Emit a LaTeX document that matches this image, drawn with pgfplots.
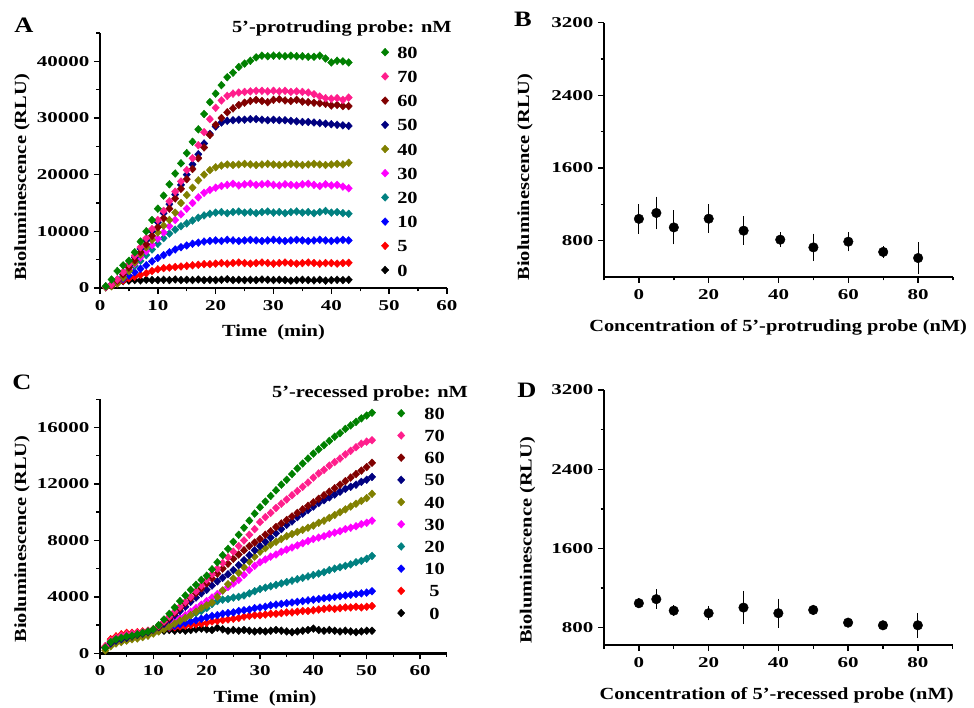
\documentclass[border=0pt]{standalone}
\usepackage{fontspec}
\setmainfont{Liberation Serif}[FakeStretch=1.2]
\newfontfamily\tickfam{Liberation Serif}[FakeStretch=1.4]
\usepackage{pgfplots}
\pgfplotsset{compat=1.18}
\usepackage{pgfplotstable}

\definecolor{cgreen}{RGB}{0,128,0}
\definecolor{cpink}{RGB}{255,30,140}
\definecolor{cmaroon}{RGB}{128,0,0}
\definecolor{cnavy}{RGB}{0,0,128}
\definecolor{colive}{RGB}{128,128,0}
\definecolor{cmagenta}{RGB}{255,0,255}
\definecolor{cteal}{RGB}{0,128,128}
\definecolor{cblue}{RGB}{0,0,255}
\definecolor{cred}{RGB}{255,0,0}

\newcommand\tfont{\fontsize{15}{17}\selectfont\tickfam\bfseries}
\newcommand\lfont{\fontsize{17}{19}\selectfont\bfseries}

\pgfplotstableread{
t c0 c5 c10 c20 c30 c40 c50 c60 c70 c80
1 200 200 200 200 200 100 200 200 200 300
2 500 500 500 500 600 300 600 500 600 1500
3 900 900 1000 1100 1300 800 1500 1300 1500 3000
4 1200 1300 1600 2000 2300 1800 2700 2400 2800 4000
5 1300 1700 2200 3000 3300 3000 4000 3600 4200 4800
6 1400 2000 2800 3900 4300 4500 5400 4900 5700 6300
7 1350 2300 3400 4800 5400 5900 6900 6300 7200 8200
8 1450 2600 4000 5800 6500 7200 8400 7700 8800 10000
9 1400 3000 4700 6800 7600 8500 10000 9200 10400 12000
10 1400 3300 5300 7800 8700 9800 11600 10700 12000 14000
11 1450 3500 5800 8800 9800 11000 13200 12300 13600 16300
12 1400 3600 6300 9600 10900 12000 14800 14000 15300 18300
13 1500 3700 6800 10300 12000 13300 16500 15800 17000 20200
14 1400 3800 7200 10900 13000 15000 18200 17500 18800 22000
15 1450 3900 7500 11400 14000 16400 20000 19200 20800 23800
16 1400 4000 7800 11900 15000 17700 21800 21000 22900 25800
17 1500 4100 8000 12400 16000 19000 23600 22900 25200 28000
18 1400 4200 8200 12800 16800 20000 25500 24800 27500 30700
19 1450 4200 8300 13100 17300 20800 27200 27000 29800 32800
20 1400 4300 8400 13300 17700 21300 28500 28800 31800 34300
21 1450 4400 8300 13400 18000 21600 29200 30000 33100 35800
22 1550 4300 8500 13200 18200 21800 29500 31000 33900 37200
23 1400 4400 8400 13400 18400 21700 29600 31700 34300 38000
24 1450 4500 8300 13500 18100 21800 29700 32300 34500 39000
25 1400 4400 8400 13300 18300 21900 29700 32700 34600 39600
26 1450 4300 8500 13400 18400 21800 29800 33000 34700 40100
27 1400 4400 8400 13200 18200 21700 29800 33200 34800 40700
28 1500 4500 8300 13400 18300 21800 29700 33000 34800 41000
29 1450 4400 8400 13500 18400 21900 29600 32800 34700 40900
30 1400 4300 8500 13300 18200 21800 29700 33200 34800 41000
31 1450 4400 8400 13400 18100 21700 29600 33300 34700 41000
32 1400 4500 8300 13200 18300 21800 29600 33100 34800 40900
33 1300 4400 8400 13400 18200 21900 29500 33000 34600 41000
34 1400 4300 8500 13500 18100 21800 29400 33200 34700 40900
35 1450 4400 8400 13300 18300 21700 29300 32900 34600 40900
36 1400 4500 8300 13400 18400 21800 29300 32800 34500 40800
37 1350 4400 8400 13200 18200 21900 29200 32700 34200 40800
38 1450 4300 8500 13400 18000 21800 29100 32600 33800 41000
39 1300 4400 8400 13600 18300 21700 29000 32500 33500 40500
40 1400 4400 8300 13300 18100 21800 28900 32200 33400 39800
41 1450 4300 8400 13400 18200 21900 28800 32300 33500 40100
42 1400 4400 8500 13200 17900 21800 28700 32100 33200 40000
43 1450 4450 8400 13100 17600 22100 28600 32100 33600 39800
}\tabA

\pgfplotstableread{
t c0 c5 c10 c20 c30 c40 c50 c60 c70 c80
1 400 500 400 400 400 200 400 400 500 400
2 800 1000 800 800 800 500 700 800 900 800
3 1000 1200 1000 1000 1000 700 900 1000 1100 1000
4 1100 1350 1100 1100 1100 800 1000 1100 1250 1100
5 1200 1450 1200 1200 1200 900 1100 1200 1350 1200
6 1250 1450 1300 1250 1250 1000 1200 1250 1400 1250
7 1300 1500 1350 1350 1300 1050 1300 1350 1450 1350
8 1400 1550 1450 1450 1400 1150 1400 1450 1500 1450
9 1450 1600 1500 1550 1500 1250 1500 1550 1600 1550
10 1550 1700 1600 1650 1600 1400 1650 1700 1700 1700
11 1600 1750 1700 1800 1750 1550 1850 1900 1950 2000
12 1600 1800 1800 1950 1900 1700 2100 2200 2250 2400
13 1650 1800 1850 2100 2100 1900 2400 2500 2600 2800
14 1600 1850 1950 2250 2300 2100 2700 2850 2950 3250
15 1650 1900 2050 2400 2500 2300 3000 3200 3300 3700
16 1600 1950 2150 2550 2700 2500 3300 3550 3650 4100
17 1650 2000 2250 2700 2950 2700 3650 3900 4000 4500
18 1700 2050 2350 2850 3200 2950 3950 4250 4400 4850
19 1750 2100 2450 3000 3450 3200 4250 4600 4800 5200
20 1700 2150 2550 3200 3700 3400 4500 4950 5200 5500
21 1650 2250 2650 3500 3950 3600 4800 5300 5600 5950
22 1800 2300 2700 3700 4200 4000 5100 5650 6000 6450
23 1700 2350 2800 3800 4450 4450 5350 6000 6400 6950
24 1600 2400 2850 3850 4700 4900 5600 6350 6800 7400
25 1650 2450 2900 3950 4950 5300 5900 6700 7200 7900
26 1600 2500 3000 4000 5200 5700 6250 7000 7600 8400
27 1650 2600 3050 4100 5550 6100 6600 7300 8000 8900
28 1600 2650 3100 4250 5900 6500 6950 7600 8400 9400
29 1550 2700 3200 4400 6200 6850 7300 7850 8800 9900
30 1600 2700 3250 4550 6450 7200 7600 8100 9300 10350
31 1550 2750 3300 4650 6650 7450 7900 8400 9650 10750
32 1600 2800 3400 4750 6850 7700 8200 8650 9950 11150
33 1650 2800 3450 4850 7000 7900 8500 8950 10300 11550
34 1600 2850 3500 4950 7200 8100 8800 9200 10600 11950
35 1550 2900 3550 5050 7350 8300 9100 9450 10900 12300
36 1500 2900 3600 5150 7500 8450 9350 9700 11200 12700
37 1550 2950 3650 5250 7650 8600 9650 9950 11500 13100
38 1600 3000 3700 5350 7800 8750 9900 10200 11800 13450
39 1650 3000 3750 5450 7950 8900 10150 10450 12100 13800
40 1750 3050 3800 5550 8100 9050 10400 10700 12450 14150
41 1650 3100 3850 5650 8200 9250 10650 10950 12750 14450
42 1600 3150 3900 5750 8300 9400 10850 11200 13000 14750
43 1650 3200 3950 5900 8450 9600 11050 11450 13300 15050
44 1600 3150 4000 6000 8550 9800 11250 11700 13550 15350
45 1550 3200 4050 6100 8650 10000 11450 11950 13800 15600
46 1600 3250 4100 6200 8800 10200 11650 12200 14100 15900
47 1550 3250 4150 6300 8900 10400 11800 12450 14350 16150
48 1500 3300 4200 6450 9000 10600 11950 12700 14600 16400
49 1550 3250 4250 6550 9150 10800 12150 12950 14850 16650
50 1600 3300 4300 6700 9250 11000 12300 13200 15000 16850
51 1600 3350 4400 6900 9400 11300 12500 13500 15100 17050
}\tabC

\pgfplotsset{
  panel/.style={
    scale only axis, anchor=south west, clip=false,
    axis lines*=left,
    axis line style={line width=2.4pt, black},
    tick style={line width=1.4pt, black},
    tick align=outside,
    major tick length=6pt, minor tick length=3.5pt,
    ticklabel style={font=\tfont},
    xticklabel style={yshift=-3pt},
    yticklabel style={xshift=-1pt},
    /pgf/number format/assume math mode=true,
    /pgf/number format/set thousands separator={},
    label style={font=\lfont},
  },
  curve/.style={only marks, mark=diamond*, mark size=3.9pt, color=#1,
    mark options={fill=#1, draw=#1, xscale=1.25}},
  errpt/.style={only marks, mark=*, mark size=4.8pt, black,
    error bars/.cd, y dir=both, y explicit,
    error bar style={line width=1.1pt, black},
    error mark options={mark size=3.3pt, line width=1.1pt, black}},
}

\begin{document}
\begin{tikzpicture}
\path[use as bounding box] (0,0) rectangle (974pt,-708pt);

% ---------------- A ----------------
\begin{axis}[panel, at={(100pt,-288pt)}, width=347pt, height=255pt,
  xmin=0, xmax=60, ymin=0, ymax=45000,
  xtick={0,10,...,60}, minor xtick={5,15,...,55},
  ytick={0,10000,...,40000}, minor ytick={5000,15000,...,45000},
  scaled y ticks=false,
  xlabel={Time\ \ (min)}, ylabel={Bioluminescence (RLU)},
  xlabel style={at={(axis description cs:0.5,-0.176)}, anchor=center},
  ylabel style={at={(axis description cs:-0.225,0.433)}, anchor=center},
  reverse legend, legend cell align=left,
  legend style={at={(rel axis cs:0.8105,0.949)}, anchor=north west, draw=none, fill=none,
    font=\lfont, row sep=12.2pt, column sep=8.5pt, inner sep=0pt,
    nodes={inner sep=0pt, text height=12pt, text depth=0pt}},
]
\addplot[curve=black] table[x=t,y=c0]{\tabA};
\addplot[curve=cred] table[x=t,y=c5]{\tabA};
\addplot[curve=cblue] table[x=t,y=c10]{\tabA};
\addplot[curve=cteal] table[x=t,y=c20]{\tabA};
\addplot[curve=cmagenta] table[x=t,y=c30]{\tabA};
\addplot[curve=colive] table[x=t,y=c40]{\tabA};
\addplot[curve=cnavy] table[x=t,y=c50]{\tabA};
\addplot[curve=cmaroon] table[x=t,y=c60]{\tabA};
\addplot[curve=cpink] table[x=t,y=c70]{\tabA};
\addplot[curve=cgreen] table[x=t,y=c80]{\tabA};
\legend{0,5,10,20,30,40,50,60,70,80}
\node[font=\lfont] at (rel axis cs:0.697,1.018) {5'-protruding probe: nM};
\end{axis}

% ---------------- B ----------------
\begin{axis}[panel, at={(604pt,-277pt)}, width=349pt, height=254.3pt,
  xmin=-10, xmax=90, ymin=400, ymax=3200,
  xtick={0,20,...,80}, minor xtick={-10,10,...,90},
  ytick={800,1600,2400,3200}, minor ytick={1200,2000,2800},
  xlabel={Concentration of 5'-protruding probe (nM)}, ylabel={Bioluminescence (RLU)},
  xlabel style={at={(axis description cs:0.499,-0.2)}, anchor=center},
  ylabel style={at={(axis description cs:-0.226,0.393)}, anchor=center},
]
\addplot[errpt] coordinates {
 (0,1040) +- (0,125)
 (5,1105) +- (0,145)
 (10,946) +- (0,150)
 (20,1042) +- (0,120)
 (30,910) +- (0,120)
 (40.5,811) +- (0,45)
 (50,726) +- (0,115)
 (60,789) +- (0,70)
 (70,676) +- (0,25)
 (80,609) +- (0,140)
};
\end{axis}

% ---------------- C ----------------
\begin{axis}[panel, at={(100pt,-653.3pt)}, width=346.7pt, height=254pt,
  xmin=0, xmax=65, ymin=0, ymax=18000,
  xtick={0,10,...,60}, minor xtick={5,15,...,65},
  ytick={0,4000,...,16000}, minor ytick={2000,6000,...,18000},
  scaled y ticks=false,
  xlabel={Time\ \ (min)}, ylabel={Bioluminescence (RLU)},
  xlabel style={at={(axis description cs:0.476,-0.177)}, anchor=center},
  ylabel style={at={(axis description cs:-0.225,0.45)}, anchor=center},
  reverse legend, legend cell align=center,
  legend style={at={(rel axis cs:0.8576,0.9695)}, anchor=north west, draw=none, fill=none,
    font=\lfont, row sep=10.2pt, column sep=19.5pt, inner sep=0pt,
    nodes={inner sep=0pt, text height=12pt, text depth=0pt}},
]
\addplot[curve=black] table[x=t,y=c0]{\tabC};
\addplot[curve=cred] table[x=t,y=c5]{\tabC};
\addplot[curve=cblue] table[x=t,y=c10]{\tabC};
\addplot[curve=cteal] table[x=t,y=c20]{\tabC};
\addplot[curve=cmagenta] table[x=t,y=c30]{\tabC};
\addplot[curve=colive] table[x=t,y=c40]{\tabC};
\addplot[curve=cnavy] table[x=t,y=c50]{\tabC};
\addplot[curve=cmaroon] table[x=t,y=c60]{\tabC};
\addplot[curve=cpink] table[x=t,y=c70]{\tabC};
\addplot[curve=cgreen] table[x=t,y=c80]{\tabC};
\legend{0,5,10,20,30,40,50,60,70,80}
\node[font=\lfont] at (rel axis cs:0.779,1.023) {5'-recessed probe: nM};
\end{axis}

% ---------------- D ----------------
\begin{axis}[panel, at={(604pt,-645pt)}, width=348.7pt, height=255pt,
  xmin=-10, xmax=90, ymin=625, ymax=3200,
  xtick={0,20,...,80}, minor xtick={-10,10,...,90},
  ytick={800,1600,2400,3200}, minor ytick={1200,2000,2800},
  xlabel={Concentration of 5'-recessed probe (nM)}, ylabel={Bioluminescence (RLU)},
  xlabel style={at={(axis description cs:0.495,-0.196)}, anchor=center},
  ylabel style={at={(axis description cs:-0.219,0.41)}, anchor=center},
]
\addplot[errpt] coordinates {
 (0,1047) +- (0,20)
 (5,1088) +- (0,65)
 (10,972) +- (0,20)
 (20,946) +- (0,40)
 (30,1003) +- (0,135)
 (40,946) +- (0,115)
 (50,979) +- (0,20)
 (60,851) +- (0,15)
 (70,824) +- (0,15)
 (80,824) +- (0,90)
};
\end{axis}

\node[font=\fontsize{22}{24}\selectfont\bfseries] at (24pt,-25pt) {A};
\node[font=\fontsize{22}{24}\selectfont\bfseries] at (523pt,-19.5pt) {B};
\node[font=\fontsize{22}{24}\selectfont\bfseries] at (22pt,-382.5pt) {C};
\node[font=\fontsize{22}{24}\selectfont\bfseries] at (527pt,-390.5pt) {D};
\end{tikzpicture}
\end{document}
